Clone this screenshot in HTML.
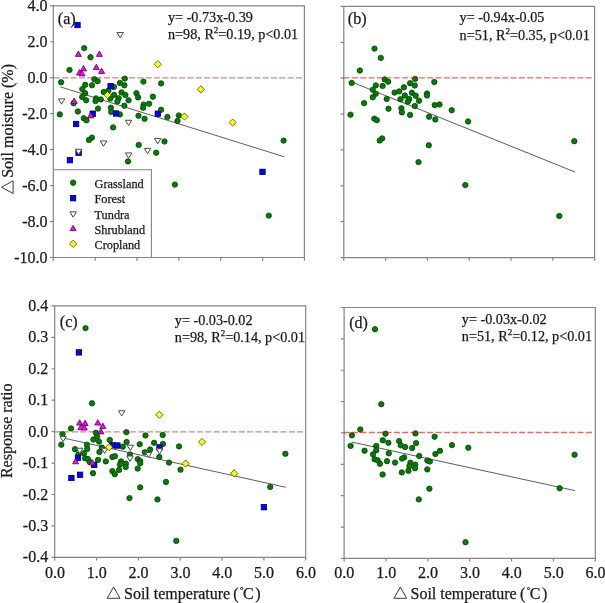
<!DOCTYPE html>
<html><head><meta charset="utf-8"><style>
html,body{margin:0;padding:0;background:#fff;width:605px;height:603px;overflow:hidden}
svg{display:block}
text{font-family:"Liberation Serif",serif;fill:#1a1a1a;stroke:#1a1a1a;stroke-width:0.25px}
</style></head><body>
<svg width="605" height="603" viewBox="0 0 605 603">
<path d="M53.3 5.8H304.4V257.5H53.3Z" fill="none" stroke="#848484" stroke-width="1.2"/><path d="M50.1 5.8H53.3M50.1 41.76H53.3M50.1 77.71H53.3M50.1 113.67H53.3M50.1 149.63H53.3M50.1 185.59H53.3M50.1 221.54H53.3M50.1 257.5H53.3M53.3 257.5V260.7M95.15 257.5V260.7M137 257.5V260.7M178.85 257.5V260.7M220.7 257.5V260.7M262.55 257.5V260.7M304.4 257.5V260.7" fill="none" stroke="#848484" stroke-width="1.2"/>
<path d="M343.8 6.4H594.6V257.6H343.8Z" fill="none" stroke="#848484" stroke-width="1.2"/><path d="M340.6 6.4H343.8M340.6 42.29H343.8M340.6 78.17H343.8M340.6 114.06H343.8M340.6 149.94H343.8M340.6 185.83H343.8M340.6 221.71H343.8M340.6 257.6H343.8M343.8 257.6V260.8M385.6 257.6V260.8M427.4 257.6V260.8M469.2 257.6V260.8M511 257.6V260.8M552.8 257.6V260.8M594.6 257.6V260.8" fill="none" stroke="#848484" stroke-width="1.2"/>
<path d="M54.7 305.9H305.7V557.4H54.7Z" fill="none" stroke="#848484" stroke-width="1.2"/><path d="M51.5 305.9H54.7M51.5 337.34H54.7M51.5 368.77H54.7M51.5 400.21H54.7M51.5 431.65H54.7M51.5 463.09H54.7M51.5 494.52H54.7M51.5 525.96H54.7M51.5 557.4H54.7M54.7 557.4V560.6M96.53 557.4V560.6M138.37 557.4V560.6M180.2 557.4V560.6M222.03 557.4V560.6M263.87 557.4V560.6M305.7 557.4V560.6" fill="none" stroke="#848484" stroke-width="1.2"/>
<path d="M344.1 307.5H595.3V558.4H344.1Z" fill="none" stroke="#848484" stroke-width="1.2"/><path d="M340.9 307.5H344.1M340.9 338.86H344.1M340.9 370.23H344.1M340.9 401.59H344.1M340.9 432.95H344.1M340.9 464.31H344.1M340.9 495.67H344.1M340.9 527.04H344.1M340.9 558.4H344.1M344.1 558.4V561.6M385.97 558.4V561.6M427.83 558.4V561.6M469.7 558.4V561.6M511.57 558.4V561.6M553.43 558.4V561.6M595.3 558.4V561.6" fill="none" stroke="#848484" stroke-width="1.2"/>
<line x1="60.4" y1="86.9" x2="284.3" y2="156.8" stroke="#555555" stroke-width="0.95"/>
<line x1="353.9" y1="82.9" x2="575.2" y2="172.1" stroke="#555555" stroke-width="0.95"/>
<line x1="61.4" y1="437.6" x2="285.8" y2="487.3" stroke="#555555" stroke-width="0.95"/>
<line x1="351.5" y1="442.0" x2="575.0" y2="490.6" stroke="#555555" stroke-width="0.95"/>
<circle cx="84.2" cy="48.1" r="2.7" fill="#008000" stroke="#083808" stroke-width="0.75"/>
<circle cx="90.5" cy="57.2" r="2.7" fill="#008000" stroke="#083808" stroke-width="0.75"/>
<circle cx="69.5" cy="69.9" r="2.7" fill="#008000" stroke="#083808" stroke-width="0.75"/>
<circle cx="61.1" cy="82.3" r="2.7" fill="#008000" stroke="#083808" stroke-width="0.75"/>
<circle cx="94.4" cy="79.2" r="2.7" fill="#008000" stroke="#083808" stroke-width="0.75"/>
<circle cx="97.6" cy="81.2" r="2.7" fill="#008000" stroke="#083808" stroke-width="0.75"/>
<circle cx="85.2" cy="84.8" r="2.7" fill="#008000" stroke="#083808" stroke-width="0.75"/>
<circle cx="92" cy="85.3" r="2.7" fill="#008000" stroke="#083808" stroke-width="0.75"/>
<circle cx="82.3" cy="89.1" r="2.7" fill="#008000" stroke="#083808" stroke-width="0.75"/>
<circle cx="85.2" cy="93.2" r="2.7" fill="#008000" stroke="#083808" stroke-width="0.75"/>
<circle cx="82.2" cy="97" r="2.7" fill="#008000" stroke="#083808" stroke-width="0.75"/>
<circle cx="86.1" cy="100.3" r="2.7" fill="#008000" stroke="#083808" stroke-width="0.75"/>
<circle cx="96" cy="98.4" r="2.7" fill="#008000" stroke="#083808" stroke-width="0.75"/>
<circle cx="95.5" cy="101.1" r="2.7" fill="#008000" stroke="#083808" stroke-width="0.75"/>
<circle cx="73.6" cy="103.2" r="2.7" fill="#008000" stroke="#083808" stroke-width="0.75"/>
<circle cx="77.9" cy="111.5" r="2.7" fill="#008000" stroke="#083808" stroke-width="0.75"/>
<circle cx="59.8" cy="114.4" r="2.7" fill="#008000" stroke="#083808" stroke-width="0.75"/>
<circle cx="98" cy="108.6" r="2.7" fill="#008000" stroke="#083808" stroke-width="0.75"/>
<circle cx="83.8" cy="118.2" r="2.7" fill="#008000" stroke="#083808" stroke-width="0.75"/>
<circle cx="86.5" cy="120.3" r="2.7" fill="#008000" stroke="#083808" stroke-width="0.75"/>
<circle cx="124.8" cy="78.6" r="2.7" fill="#008000" stroke="#083808" stroke-width="0.75"/>
<circle cx="119.9" cy="82.9" r="2.7" fill="#008000" stroke="#083808" stroke-width="0.75"/>
<circle cx="124.4" cy="85.3" r="2.7" fill="#008000" stroke="#083808" stroke-width="0.75"/>
<circle cx="143.4" cy="81.6" r="2.7" fill="#008000" stroke="#083808" stroke-width="0.75"/>
<circle cx="113.9" cy="87" r="2.7" fill="#008000" stroke="#083808" stroke-width="0.75"/>
<circle cx="108.3" cy="90.7" r="2.7" fill="#008000" stroke="#083808" stroke-width="0.75"/>
<circle cx="103.7" cy="92" r="2.7" fill="#008000" stroke="#083808" stroke-width="0.75"/>
<circle cx="114.1" cy="94.9" r="2.7" fill="#008000" stroke="#083808" stroke-width="0.75"/>
<circle cx="121.5" cy="92.4" r="2.7" fill="#008000" stroke="#083808" stroke-width="0.75"/>
<circle cx="125.3" cy="94.9" r="2.7" fill="#008000" stroke="#083808" stroke-width="0.75"/>
<circle cx="136.5" cy="93.2" r="2.7" fill="#008000" stroke="#083808" stroke-width="0.75"/>
<circle cx="138.1" cy="97.4" r="2.7" fill="#008000" stroke="#083808" stroke-width="0.75"/>
<circle cx="110.3" cy="98.6" r="2.7" fill="#008000" stroke="#083808" stroke-width="0.75"/>
<circle cx="118.6" cy="98.2" r="2.7" fill="#008000" stroke="#083808" stroke-width="0.75"/>
<circle cx="117.4" cy="101.5" r="2.7" fill="#008000" stroke="#083808" stroke-width="0.75"/>
<circle cx="128.6" cy="100.3" r="2.7" fill="#008000" stroke="#083808" stroke-width="0.75"/>
<circle cx="100.8" cy="99.4" r="2.7" fill="#008000" stroke="#083808" stroke-width="0.75"/>
<circle cx="124.4" cy="105.7" r="2.7" fill="#008000" stroke="#083808" stroke-width="0.75"/>
<circle cx="143.6" cy="104.6" r="2.7" fill="#008000" stroke="#083808" stroke-width="0.75"/>
<circle cx="143.1" cy="107.7" r="2.7" fill="#008000" stroke="#083808" stroke-width="0.75"/>
<circle cx="149.1" cy="103.8" r="2.7" fill="#008000" stroke="#083808" stroke-width="0.75"/>
<circle cx="110.9" cy="107.7" r="2.7" fill="#008000" stroke="#083808" stroke-width="0.75"/>
<circle cx="111.2" cy="111.9" r="2.7" fill="#008000" stroke="#083808" stroke-width="0.75"/>
<circle cx="119.9" cy="114.4" r="2.7" fill="#008000" stroke="#083808" stroke-width="0.75"/>
<circle cx="138.5" cy="115.8" r="2.7" fill="#008000" stroke="#083808" stroke-width="0.75"/>
<circle cx="144.6" cy="118.8" r="2.7" fill="#008000" stroke="#083808" stroke-width="0.75"/>
<circle cx="161.1" cy="83.4" r="2.7" fill="#008000" stroke="#083808" stroke-width="0.75"/>
<circle cx="152.9" cy="96.7" r="2.7" fill="#008000" stroke="#083808" stroke-width="0.75"/>
<circle cx="161.1" cy="109.8" r="2.7" fill="#008000" stroke="#083808" stroke-width="0.75"/>
<circle cx="167.4" cy="116.9" r="2.7" fill="#008000" stroke="#083808" stroke-width="0.75"/>
<circle cx="178.9" cy="115.5" r="2.7" fill="#008000" stroke="#083808" stroke-width="0.75"/>
<circle cx="177.5" cy="121" r="2.7" fill="#008000" stroke="#083808" stroke-width="0.75"/>
<circle cx="91.9" cy="137.6" r="2.7" fill="#008000" stroke="#083808" stroke-width="0.75"/>
<circle cx="89" cy="139.9" r="2.7" fill="#008000" stroke="#083808" stroke-width="0.75"/>
<circle cx="113.1" cy="127.4" r="2.7" fill="#008000" stroke="#083808" stroke-width="0.75"/>
<circle cx="138.7" cy="144.9" r="2.7" fill="#008000" stroke="#083808" stroke-width="0.75"/>
<circle cx="128" cy="161.4" r="2.7" fill="#008000" stroke="#083808" stroke-width="0.75"/>
<circle cx="164.5" cy="141.5" r="2.7" fill="#008000" stroke="#083808" stroke-width="0.75"/>
<circle cx="156.2" cy="152.7" r="2.7" fill="#008000" stroke="#083808" stroke-width="0.75"/>
<circle cx="283.6" cy="140.6" r="2.7" fill="#008000" stroke="#083808" stroke-width="0.75"/>
<circle cx="174.9" cy="184.6" r="2.7" fill="#008000" stroke="#083808" stroke-width="0.75"/>
<circle cx="268.8" cy="215.6" r="2.7" fill="#008000" stroke="#083808" stroke-width="0.75"/>
<rect x="74.8" y="22.3" width="5.4" height="5.4" fill="#0000ff" stroke="#000048" stroke-width="0.8"/>
<rect x="107.9" y="83.5" width="5.4" height="5.4" fill="#0000ff" stroke="#000048" stroke-width="0.8"/>
<rect x="90" y="111" width="5.4" height="5.4" fill="#0000ff" stroke="#000048" stroke-width="0.8"/>
<rect x="113.4" y="110.8" width="5.4" height="5.4" fill="#0000ff" stroke="#000048" stroke-width="0.8"/>
<rect x="73.4" y="121.3" width="5.4" height="5.4" fill="#0000ff" stroke="#000048" stroke-width="0.8"/>
<rect x="75.9" y="150" width="5.4" height="5.4" fill="#0000ff" stroke="#000048" stroke-width="0.8"/>
<rect x="67.2" y="157.5" width="5.4" height="5.4" fill="#0000ff" stroke="#000048" stroke-width="0.8"/>
<rect x="155.1" y="111" width="5.4" height="5.4" fill="#0000ff" stroke="#000048" stroke-width="0.8"/>
<rect x="259.8" y="169.2" width="5.4" height="5.4" fill="#0000ff" stroke="#000048" stroke-width="0.8"/>
<path d="M116.95 32.55H123.45L120.2 37.85Z" fill="#ffffff" stroke="#4c4c4c" stroke-width="1"/>
<path d="M58.35 98.85H64.85L61.6 104.15Z" fill="#ffffff" stroke="#4c4c4c" stroke-width="1"/>
<path d="M125.35 120.25H131.85L128.6 125.55Z" fill="#ffffff" stroke="#4c4c4c" stroke-width="1"/>
<path d="M100.25 140.95H106.75L103.5 146.25Z" fill="#ffffff" stroke="#4c4c4c" stroke-width="1"/>
<path d="M125.35 152.95H131.85L128.6 158.25Z" fill="#ffffff" stroke="#4c4c4c" stroke-width="1"/>
<path d="M154.45 138.45H160.95L157.7 143.75Z" fill="#ffffff" stroke="#4c4c4c" stroke-width="1"/>
<path d="M144.25 148.35H150.75L147.5 153.65Z" fill="#ffffff" stroke="#4c4c4c" stroke-width="1"/>
<path d="M75.35 149.25H81.85L78.6 154.55Z" fill="#ffffff" stroke="#4c4c4c" stroke-width="1"/>
<path d="M78.4 51L81.45 56.4H75.35Z" fill="#ff00ff" stroke="#4a004a" stroke-width="0.75"/>
<path d="M99.4 51L102.45 56.4H96.35Z" fill="#ff00ff" stroke="#4a004a" stroke-width="0.75"/>
<path d="M83.5 65.5L86.55 70.9H80.45Z" fill="#ff00ff" stroke="#4a004a" stroke-width="0.75"/>
<path d="M96.3 64.2L99.35 69.6H93.25Z" fill="#ff00ff" stroke="#4a004a" stroke-width="0.75"/>
<path d="M101.6 68.2L104.65 73.6H98.55Z" fill="#ff00ff" stroke="#4a004a" stroke-width="0.75"/>
<path d="M79.5 69.6L82.55 75H76.45Z" fill="#ff00ff" stroke="#4a004a" stroke-width="0.75"/>
<path d="M82 70.5L85.05 75.9H78.95Z" fill="#ff00ff" stroke="#4a004a" stroke-width="0.75"/>
<path d="M74.2 98L77.25 103.4H71.15Z" fill="#ff00ff" stroke="#4a004a" stroke-width="0.75"/>
<path d="M90.6 112.5L93.65 117.9H87.55Z" fill="#ff00ff" stroke="#4a004a" stroke-width="0.75"/>
<path d="M157.8 60.6L161.4 64.2L157.8 67.8L154.2 64.2Z" fill="#ffff00" stroke="#40401a" stroke-width="0.75"/>
<path d="M107.6 91.5L111.2 95.1L107.6 98.7L104 95.1Z" fill="#ffff00" stroke="#40401a" stroke-width="0.75"/>
<path d="M200.8 85.8L204.4 89.4L200.8 93L197.2 89.4Z" fill="#ffff00" stroke="#40401a" stroke-width="0.75"/>
<path d="M184.5 112.9L188.1 116.5L184.5 120.1L180.9 116.5Z" fill="#ffff00" stroke="#40401a" stroke-width="0.75"/>
<path d="M232.7 119L236.3 122.6L232.7 126.2L229.1 122.6Z" fill="#ffff00" stroke="#40401a" stroke-width="0.75"/>
<circle cx="374.5" cy="48.6" r="2.7" fill="#008000" stroke="#083808" stroke-width="0.75"/>
<circle cx="380.8" cy="57.9" r="2.7" fill="#008000" stroke="#083808" stroke-width="0.75"/>
<circle cx="359.9" cy="70.5" r="2.7" fill="#008000" stroke="#083808" stroke-width="0.75"/>
<circle cx="351.7" cy="82.9" r="2.7" fill="#008000" stroke="#083808" stroke-width="0.75"/>
<circle cx="384.7" cy="79.4" r="2.7" fill="#008000" stroke="#083808" stroke-width="0.75"/>
<circle cx="388.2" cy="81.7" r="2.7" fill="#008000" stroke="#083808" stroke-width="0.75"/>
<circle cx="375.8" cy="85.4" r="2.7" fill="#008000" stroke="#083808" stroke-width="0.75"/>
<circle cx="382.6" cy="85.9" r="2.7" fill="#008000" stroke="#083808" stroke-width="0.75"/>
<circle cx="372.8" cy="89.7" r="2.7" fill="#008000" stroke="#083808" stroke-width="0.75"/>
<circle cx="375.8" cy="93.8" r="2.7" fill="#008000" stroke="#083808" stroke-width="0.75"/>
<circle cx="372.8" cy="97.3" r="2.7" fill="#008000" stroke="#083808" stroke-width="0.75"/>
<circle cx="386.7" cy="99" r="2.7" fill="#008000" stroke="#083808" stroke-width="0.75"/>
<circle cx="364.1" cy="103.1" r="2.7" fill="#008000" stroke="#083808" stroke-width="0.75"/>
<circle cx="388.5" cy="108.7" r="2.7" fill="#008000" stroke="#083808" stroke-width="0.75"/>
<circle cx="350.5" cy="114.7" r="2.7" fill="#008000" stroke="#083808" stroke-width="0.75"/>
<circle cx="374.3" cy="118.7" r="2.7" fill="#008000" stroke="#083808" stroke-width="0.75"/>
<circle cx="376.8" cy="120.2" r="2.7" fill="#008000" stroke="#083808" stroke-width="0.75"/>
<circle cx="415.1" cy="78.9" r="2.7" fill="#008000" stroke="#083808" stroke-width="0.75"/>
<circle cx="410.1" cy="83.2" r="2.7" fill="#008000" stroke="#083808" stroke-width="0.75"/>
<circle cx="414.8" cy="85.5" r="2.7" fill="#008000" stroke="#083808" stroke-width="0.75"/>
<circle cx="434.3" cy="82" r="2.7" fill="#008000" stroke="#083808" stroke-width="0.75"/>
<circle cx="403.9" cy="87.3" r="2.7" fill="#008000" stroke="#083808" stroke-width="0.75"/>
<circle cx="394.6" cy="92.6" r="2.7" fill="#008000" stroke="#083808" stroke-width="0.75"/>
<circle cx="399.1" cy="91.4" r="2.7" fill="#008000" stroke="#083808" stroke-width="0.75"/>
<circle cx="404.8" cy="95.5" r="2.7" fill="#008000" stroke="#083808" stroke-width="0.75"/>
<circle cx="411.9" cy="92.8" r="2.7" fill="#008000" stroke="#083808" stroke-width="0.75"/>
<circle cx="415.7" cy="95.7" r="2.7" fill="#008000" stroke="#083808" stroke-width="0.75"/>
<circle cx="427" cy="93.5" r="2.7" fill="#008000" stroke="#083808" stroke-width="0.75"/>
<circle cx="427" cy="95.5" r="2.7" fill="#008000" stroke="#083808" stroke-width="0.75"/>
<circle cx="400.5" cy="99.2" r="2.7" fill="#008000" stroke="#083808" stroke-width="0.75"/>
<circle cx="409.2" cy="99" r="2.7" fill="#008000" stroke="#083808" stroke-width="0.75"/>
<circle cx="407.8" cy="101.8" r="2.7" fill="#008000" stroke="#083808" stroke-width="0.75"/>
<circle cx="419" cy="100.8" r="2.7" fill="#008000" stroke="#083808" stroke-width="0.75"/>
<circle cx="414.8" cy="106" r="2.7" fill="#008000" stroke="#083808" stroke-width="0.75"/>
<circle cx="401.4" cy="108.3" r="2.7" fill="#008000" stroke="#083808" stroke-width="0.75"/>
<circle cx="401.9" cy="112.4" r="2.7" fill="#008000" stroke="#083808" stroke-width="0.75"/>
<circle cx="410.1" cy="114.9" r="2.7" fill="#008000" stroke="#083808" stroke-width="0.75"/>
<circle cx="434.7" cy="105.1" r="2.7" fill="#008000" stroke="#083808" stroke-width="0.75"/>
<circle cx="439.5" cy="104.5" r="2.7" fill="#008000" stroke="#083808" stroke-width="0.75"/>
<circle cx="429.1" cy="116.7" r="2.7" fill="#008000" stroke="#083808" stroke-width="0.75"/>
<circle cx="435.3" cy="119.5" r="2.7" fill="#008000" stroke="#083808" stroke-width="0.75"/>
<circle cx="451.7" cy="110.2" r="2.7" fill="#008000" stroke="#083808" stroke-width="0.75"/>
<circle cx="468.1" cy="121.5" r="2.7" fill="#008000" stroke="#083808" stroke-width="0.75"/>
<circle cx="382.2" cy="138.4" r="2.7" fill="#008000" stroke="#083808" stroke-width="0.75"/>
<circle cx="379.7" cy="140.5" r="2.7" fill="#008000" stroke="#083808" stroke-width="0.75"/>
<circle cx="428.8" cy="145.3" r="2.7" fill="#008000" stroke="#083808" stroke-width="0.75"/>
<circle cx="418.5" cy="162.1" r="2.7" fill="#008000" stroke="#083808" stroke-width="0.75"/>
<circle cx="465.3" cy="185.1" r="2.7" fill="#008000" stroke="#083808" stroke-width="0.75"/>
<circle cx="574.3" cy="141.2" r="2.7" fill="#008000" stroke="#083808" stroke-width="0.75"/>
<circle cx="559.3" cy="216" r="2.7" fill="#008000" stroke="#083808" stroke-width="0.75"/>
<circle cx="85.5" cy="328.1" r="2.7" fill="#008000" stroke="#083808" stroke-width="0.75"/>
<circle cx="92" cy="403.3" r="2.7" fill="#008000" stroke="#083808" stroke-width="0.75"/>
<circle cx="71" cy="428.4" r="2.7" fill="#008000" stroke="#083808" stroke-width="0.75"/>
<circle cx="62.5" cy="434.1" r="2.7" fill="#008000" stroke="#083808" stroke-width="0.75"/>
<circle cx="61.3" cy="444.7" r="2.7" fill="#008000" stroke="#083808" stroke-width="0.75"/>
<circle cx="95.9" cy="432.8" r="2.7" fill="#008000" stroke="#083808" stroke-width="0.75"/>
<circle cx="97.1" cy="436.5" r="2.7" fill="#008000" stroke="#083808" stroke-width="0.75"/>
<circle cx="93.4" cy="439.5" r="2.7" fill="#008000" stroke="#083808" stroke-width="0.75"/>
<circle cx="99" cy="441.6" r="2.7" fill="#008000" stroke="#083808" stroke-width="0.75"/>
<circle cx="86.9" cy="444.7" r="2.7" fill="#008000" stroke="#083808" stroke-width="0.75"/>
<circle cx="75" cy="449.2" r="2.7" fill="#008000" stroke="#083808" stroke-width="0.75"/>
<circle cx="87.2" cy="449" r="2.7" fill="#008000" stroke="#083808" stroke-width="0.75"/>
<circle cx="101.8" cy="447.5" r="2.7" fill="#008000" stroke="#083808" stroke-width="0.75"/>
<circle cx="84" cy="453.3" r="2.7" fill="#008000" stroke="#083808" stroke-width="0.75"/>
<circle cx="78.5" cy="454.5" r="2.7" fill="#008000" stroke="#083808" stroke-width="0.75"/>
<circle cx="85.1" cy="458.2" r="2.7" fill="#008000" stroke="#083808" stroke-width="0.75"/>
<circle cx="88" cy="459.1" r="2.7" fill="#008000" stroke="#083808" stroke-width="0.75"/>
<circle cx="89.7" cy="462" r="2.7" fill="#008000" stroke="#083808" stroke-width="0.75"/>
<circle cx="98" cy="459.9" r="2.7" fill="#008000" stroke="#083808" stroke-width="0.75"/>
<circle cx="99.4" cy="452" r="2.7" fill="#008000" stroke="#083808" stroke-width="0.75"/>
<circle cx="93" cy="473.2" r="2.7" fill="#008000" stroke="#083808" stroke-width="0.75"/>
<circle cx="126.4" cy="432.2" r="2.7" fill="#008000" stroke="#083808" stroke-width="0.75"/>
<circle cx="145.5" cy="435.5" r="2.7" fill="#008000" stroke="#083808" stroke-width="0.75"/>
<circle cx="109.8" cy="440" r="2.7" fill="#008000" stroke="#083808" stroke-width="0.75"/>
<circle cx="126.6" cy="442" r="2.7" fill="#008000" stroke="#083808" stroke-width="0.75"/>
<circle cx="139.7" cy="444.2" r="2.7" fill="#008000" stroke="#083808" stroke-width="0.75"/>
<circle cx="122.8" cy="446.7" r="2.7" fill="#008000" stroke="#083808" stroke-width="0.75"/>
<circle cx="150.1" cy="449.5" r="2.7" fill="#008000" stroke="#083808" stroke-width="0.75"/>
<circle cx="112.4" cy="457" r="2.7" fill="#008000" stroke="#083808" stroke-width="0.75"/>
<circle cx="114.9" cy="456.2" r="2.7" fill="#008000" stroke="#083808" stroke-width="0.75"/>
<circle cx="105.8" cy="461.4" r="2.7" fill="#008000" stroke="#083808" stroke-width="0.75"/>
<circle cx="121.1" cy="461.4" r="2.7" fill="#008000" stroke="#083808" stroke-width="0.75"/>
<circle cx="119.9" cy="464.5" r="2.7" fill="#008000" stroke="#083808" stroke-width="0.75"/>
<circle cx="125.9" cy="463.6" r="2.7" fill="#008000" stroke="#083808" stroke-width="0.75"/>
<circle cx="125.7" cy="467" r="2.7" fill="#008000" stroke="#083808" stroke-width="0.75"/>
<circle cx="119.1" cy="469.9" r="2.7" fill="#008000" stroke="#083808" stroke-width="0.75"/>
<circle cx="112.4" cy="471.1" r="2.7" fill="#008000" stroke="#083808" stroke-width="0.75"/>
<circle cx="114.8" cy="474.2" r="2.7" fill="#008000" stroke="#083808" stroke-width="0.75"/>
<circle cx="130" cy="454.5" r="2.7" fill="#008000" stroke="#083808" stroke-width="0.75"/>
<circle cx="137.7" cy="459.1" r="2.7" fill="#008000" stroke="#083808" stroke-width="0.75"/>
<circle cx="140.2" cy="461.1" r="2.7" fill="#008000" stroke="#083808" stroke-width="0.75"/>
<circle cx="140.2" cy="463.2" r="2.7" fill="#008000" stroke="#083808" stroke-width="0.75"/>
<circle cx="137.7" cy="468.6" r="2.7" fill="#008000" stroke="#083808" stroke-width="0.75"/>
<circle cx="144.8" cy="452.3" r="2.7" fill="#008000" stroke="#083808" stroke-width="0.75"/>
<circle cx="140.2" cy="487.4" r="2.7" fill="#008000" stroke="#083808" stroke-width="0.75"/>
<circle cx="162.7" cy="435" r="2.7" fill="#008000" stroke="#083808" stroke-width="0.75"/>
<circle cx="154.1" cy="442.8" r="2.7" fill="#008000" stroke="#083808" stroke-width="0.75"/>
<circle cx="162.9" cy="444" r="2.7" fill="#008000" stroke="#083808" stroke-width="0.75"/>
<circle cx="179" cy="446.4" r="2.7" fill="#008000" stroke="#083808" stroke-width="0.75"/>
<circle cx="159.3" cy="457" r="2.7" fill="#008000" stroke="#083808" stroke-width="0.75"/>
<circle cx="169" cy="462.6" r="2.7" fill="#008000" stroke="#083808" stroke-width="0.75"/>
<circle cx="180.5" cy="469.7" r="2.7" fill="#008000" stroke="#083808" stroke-width="0.75"/>
<circle cx="166" cy="481.9" r="2.7" fill="#008000" stroke="#083808" stroke-width="0.75"/>
<circle cx="129.5" cy="498.1" r="2.7" fill="#008000" stroke="#083808" stroke-width="0.75"/>
<circle cx="157.5" cy="499.4" r="2.7" fill="#008000" stroke="#083808" stroke-width="0.75"/>
<circle cx="176.3" cy="540.9" r="2.7" fill="#008000" stroke="#083808" stroke-width="0.75"/>
<circle cx="285.4" cy="453.8" r="2.7" fill="#008000" stroke="#083808" stroke-width="0.75"/>
<circle cx="270.2" cy="486.9" r="2.7" fill="#008000" stroke="#083808" stroke-width="0.75"/>
<rect x="76.2" y="349.7" width="5.4" height="5.4" fill="#0000ff" stroke="#000048" stroke-width="0.8"/>
<rect x="109.6" y="442.6" width="5.4" height="5.4" fill="#0000ff" stroke="#000048" stroke-width="0.8"/>
<rect x="114.7" y="442.8" width="5.4" height="5.4" fill="#0000ff" stroke="#000048" stroke-width="0.8"/>
<rect x="75.3" y="455.1" width="5.4" height="5.4" fill="#0000ff" stroke="#000048" stroke-width="0.8"/>
<rect x="91.5" y="462.2" width="5.4" height="5.4" fill="#0000ff" stroke="#000048" stroke-width="0.8"/>
<rect x="77.4" y="472.1" width="5.4" height="5.4" fill="#0000ff" stroke="#000048" stroke-width="0.8"/>
<rect x="68.7" y="475.3" width="5.4" height="5.4" fill="#0000ff" stroke="#000048" stroke-width="0.8"/>
<rect x="156.8" y="444.7" width="5.4" height="5.4" fill="#0000ff" stroke="#000048" stroke-width="0.8"/>
<rect x="261.2" y="504.5" width="5.4" height="5.4" fill="#0000ff" stroke="#000048" stroke-width="0.8"/>
<path d="M118.45 410.75H124.95L121.7 416.05Z" fill="#ffffff" stroke="#4c4c4c" stroke-width="1"/>
<path d="M59.95 436.35H66.45L63.2 441.65Z" fill="#ffffff" stroke="#4c4c4c" stroke-width="1"/>
<path d="M76.45 448.25H82.95L79.7 453.55Z" fill="#ffffff" stroke="#4c4c4c" stroke-width="1"/>
<path d="M101.35 448.15H107.85L104.6 453.45Z" fill="#ffffff" stroke="#4c4c4c" stroke-width="1"/>
<path d="M127.05 445.15H133.55L130.3 450.45Z" fill="#ffffff" stroke="#4c4c4c" stroke-width="1"/>
<path d="M126.75 456.05H133.25L130 461.35Z" fill="#ffffff" stroke="#4c4c4c" stroke-width="1"/>
<path d="M145.35 452.45H151.85L148.6 457.75Z" fill="#ffffff" stroke="#4c4c4c" stroke-width="1"/>
<path d="M156.25 448.75H162.75L159.5 454.05Z" fill="#ffffff" stroke="#4c4c4c" stroke-width="1"/>
<path d="M79.7 419.7L82.75 425.1H76.65Z" fill="#ff00ff" stroke="#4a004a" stroke-width="0.75"/>
<path d="M85.1 420.1L88.15 425.5H82.05Z" fill="#ff00ff" stroke="#4a004a" stroke-width="0.75"/>
<path d="M81 424.3L84.05 429.7H77.95Z" fill="#ff00ff" stroke="#4a004a" stroke-width="0.75"/>
<path d="M84.3 424.7L87.35 430.1H81.25Z" fill="#ff00ff" stroke="#4a004a" stroke-width="0.75"/>
<path d="M97.8 419.7L100.85 425.1H94.75Z" fill="#ff00ff" stroke="#4a004a" stroke-width="0.75"/>
<path d="M102.8 423.1L105.85 428.5H99.75Z" fill="#ff00ff" stroke="#4a004a" stroke-width="0.75"/>
<path d="M100.9 428.5L103.95 433.9H97.85Z" fill="#ff00ff" stroke="#4a004a" stroke-width="0.75"/>
<path d="M75.6 458.4L78.65 463.8H72.55Z" fill="#ff00ff" stroke="#4a004a" stroke-width="0.75"/>
<path d="M92.3 459.5L95.35 464.9H89.25Z" fill="#ff00ff" stroke="#4a004a" stroke-width="0.75"/>
<path d="M109.1 443.6L112.7 447.2L109.1 450.8L105.5 447.2Z" fill="#ffff00" stroke="#40401a" stroke-width="0.75"/>
<path d="M159.3 411.2L162.9 414.8L159.3 418.4L155.7 414.8Z" fill="#ffff00" stroke="#40401a" stroke-width="0.75"/>
<path d="M202 438.4L205.6 442L202 445.6L198.4 442Z" fill="#ffff00" stroke="#40401a" stroke-width="0.75"/>
<path d="M185.6 460L189.2 463.6L185.6 467.2L182 463.6Z" fill="#ffff00" stroke="#40401a" stroke-width="0.75"/>
<path d="M234.2 469.8L237.8 473.4L234.2 477L230.6 473.4Z" fill="#ffff00" stroke="#40401a" stroke-width="0.75"/>
<circle cx="375" cy="329.2" r="2.7" fill="#008000" stroke="#083808" stroke-width="0.75"/>
<circle cx="381.3" cy="404.2" r="2.7" fill="#008000" stroke="#083808" stroke-width="0.75"/>
<circle cx="360.3" cy="429.5" r="2.7" fill="#008000" stroke="#083808" stroke-width="0.75"/>
<circle cx="351.9" cy="435.3" r="2.7" fill="#008000" stroke="#083808" stroke-width="0.75"/>
<circle cx="350.6" cy="445.9" r="2.7" fill="#008000" stroke="#083808" stroke-width="0.75"/>
<circle cx="364.6" cy="450.7" r="2.7" fill="#008000" stroke="#083808" stroke-width="0.75"/>
<circle cx="385.5" cy="433.7" r="2.7" fill="#008000" stroke="#083808" stroke-width="0.75"/>
<circle cx="382.8" cy="440.3" r="2.7" fill="#008000" stroke="#083808" stroke-width="0.75"/>
<circle cx="388.4" cy="442.8" r="2.7" fill="#008000" stroke="#083808" stroke-width="0.75"/>
<circle cx="376.2" cy="445.9" r="2.7" fill="#008000" stroke="#083808" stroke-width="0.75"/>
<circle cx="376.2" cy="450.3" r="2.7" fill="#008000" stroke="#083808" stroke-width="0.75"/>
<circle cx="373" cy="454.4" r="2.7" fill="#008000" stroke="#083808" stroke-width="0.75"/>
<circle cx="374.6" cy="459.3" r="2.7" fill="#008000" stroke="#083808" stroke-width="0.75"/>
<circle cx="377.6" cy="460.3" r="2.7" fill="#008000" stroke="#083808" stroke-width="0.75"/>
<circle cx="379.9" cy="463.8" r="2.7" fill="#008000" stroke="#083808" stroke-width="0.75"/>
<circle cx="388.8" cy="453.3" r="2.7" fill="#008000" stroke="#083808" stroke-width="0.75"/>
<circle cx="387" cy="461.2" r="2.7" fill="#008000" stroke="#083808" stroke-width="0.75"/>
<circle cx="395" cy="462.6" r="2.7" fill="#008000" stroke="#083808" stroke-width="0.75"/>
<circle cx="382.6" cy="474.5" r="2.7" fill="#008000" stroke="#083808" stroke-width="0.75"/>
<circle cx="415.5" cy="433.4" r="2.7" fill="#008000" stroke="#083808" stroke-width="0.75"/>
<circle cx="434.6" cy="436.7" r="2.7" fill="#008000" stroke="#083808" stroke-width="0.75"/>
<circle cx="399.1" cy="441.1" r="2.7" fill="#008000" stroke="#083808" stroke-width="0.75"/>
<circle cx="400.8" cy="445.3" r="2.7" fill="#008000" stroke="#083808" stroke-width="0.75"/>
<circle cx="405.1" cy="447" r="2.7" fill="#008000" stroke="#083808" stroke-width="0.75"/>
<circle cx="412.2" cy="448" r="2.7" fill="#008000" stroke="#083808" stroke-width="0.75"/>
<circle cx="416.1" cy="443.1" r="2.7" fill="#008000" stroke="#083808" stroke-width="0.75"/>
<circle cx="435.4" cy="454" r="2.7" fill="#008000" stroke="#083808" stroke-width="0.75"/>
<circle cx="440" cy="450.8" r="2.7" fill="#008000" stroke="#083808" stroke-width="0.75"/>
<circle cx="419.2" cy="456" r="2.7" fill="#008000" stroke="#083808" stroke-width="0.75"/>
<circle cx="404.2" cy="457.4" r="2.7" fill="#008000" stroke="#083808" stroke-width="0.75"/>
<circle cx="402" cy="458.6" r="2.7" fill="#008000" stroke="#083808" stroke-width="0.75"/>
<circle cx="427.3" cy="460.5" r="2.7" fill="#008000" stroke="#083808" stroke-width="0.75"/>
<circle cx="429.8" cy="461.5" r="2.7" fill="#008000" stroke="#083808" stroke-width="0.75"/>
<circle cx="410.4" cy="462.8" r="2.7" fill="#008000" stroke="#083808" stroke-width="0.75"/>
<circle cx="415.3" cy="464.6" r="2.7" fill="#008000" stroke="#083808" stroke-width="0.75"/>
<circle cx="409.4" cy="466.1" r="2.7" fill="#008000" stroke="#083808" stroke-width="0.75"/>
<circle cx="415" cy="468.2" r="2.7" fill="#008000" stroke="#083808" stroke-width="0.75"/>
<circle cx="427.3" cy="469.4" r="2.7" fill="#008000" stroke="#083808" stroke-width="0.75"/>
<circle cx="408.4" cy="470.8" r="2.7" fill="#008000" stroke="#083808" stroke-width="0.75"/>
<circle cx="401.8" cy="472.4" r="2.7" fill="#008000" stroke="#083808" stroke-width="0.75"/>
<circle cx="429.4" cy="488.7" r="2.7" fill="#008000" stroke="#083808" stroke-width="0.75"/>
<circle cx="418.8" cy="499.4" r="2.7" fill="#008000" stroke="#083808" stroke-width="0.75"/>
<circle cx="452" cy="445.1" r="2.7" fill="#008000" stroke="#083808" stroke-width="0.75"/>
<circle cx="468.3" cy="447.7" r="2.7" fill="#008000" stroke="#083808" stroke-width="0.75"/>
<circle cx="574.6" cy="454.7" r="2.7" fill="#008000" stroke="#083808" stroke-width="0.75"/>
<circle cx="559.6" cy="488.2" r="2.7" fill="#008000" stroke="#083808" stroke-width="0.75"/>
<circle cx="465.5" cy="542.2" r="2.7" fill="#008000" stroke="#083808" stroke-width="0.75"/>
<line x1="53.8" y1="77.9" x2="302.8" y2="77.9" stroke="rgba(150,20,20,0.5)" stroke-width="1.3" stroke-dasharray="6.1 2.25"/>
<line x1="343.55" y1="77.95" x2="593" y2="77.95" stroke="rgba(232,0,0,0.6)" stroke-width="1.3" stroke-dasharray="6.1 2.25"/>
<line x1="55" y1="431.85" x2="304.1" y2="431.85" stroke="rgba(150,20,20,0.5)" stroke-width="1.3" stroke-dasharray="6.1 2.25"/>
<line x1="343.7" y1="432.5" x2="593.7" y2="432.5" stroke="rgba(232,0,0,0.6)" stroke-width="1.3" stroke-dasharray="6.1 2.25"/>
<path d="M53.3 169.8H151.4V257.5" fill="#ffffff" stroke="#848484" stroke-width="1.1"/>
<circle cx="73.1" cy="182.7" r="2.7" fill="#008000" stroke="#083808" stroke-width="0.75"/>
<rect x="70.4" y="195.5" width="5.4" height="5.4" fill="#0000ff" stroke="#000048" stroke-width="0.8"/>
<path d="M69.85 211.85H76.35L73.1 217.15Z" fill="#ffffff" stroke="#4c4c4c" stroke-width="1"/>
<path d="M73.1 225.3L76.15 230.7H70.05Z" fill="#ff00ff" stroke="#4a004a" stroke-width="0.75"/>
<path d="M73.1 240.2L76.7 243.8L73.1 247.4L69.5 243.8Z" fill="#ffff00" stroke="#40401a" stroke-width="0.75"/>
<path d="M107.2 598.3H120L113.6 587.1Z" fill="none" stroke="#1a1a1a" stroke-width="0.85"/>
<path d="M393.9 598.3H406.7L400.3 587.1Z" fill="none" stroke="#1a1a1a" stroke-width="0.85"/>
<g style="will-change:transform">
<text x="47.5" y="10.8" font-size="16" text-anchor="end" >4.0</text>
<text x="47.5" y="46.76" font-size="16" text-anchor="end" >2.0</text>
<text x="47.5" y="82.71" font-size="16" text-anchor="end" >0.0</text>
<text x="47.5" y="118.67" font-size="16" text-anchor="end" >-2.0</text>
<text x="47.5" y="154.63" font-size="16" text-anchor="end" >-4.0</text>
<text x="47.5" y="190.59" font-size="16" text-anchor="end" >-6.0</text>
<text x="47.5" y="226.54" font-size="16" text-anchor="end" >-8.0</text>
<text x="47.5" y="262.5" font-size="16" text-anchor="end" >-10.0</text>
<text x="48.2" y="310.9" font-size="16" text-anchor="end" >0.4</text>
<text x="48.2" y="342.34" font-size="16" text-anchor="end" >0.3</text>
<text x="48.2" y="373.77" font-size="16" text-anchor="end" >0.2</text>
<text x="48.2" y="405.21" font-size="16" text-anchor="end" >0.1</text>
<text x="48.2" y="436.65" font-size="16" text-anchor="end" >0.0</text>
<text x="48.2" y="468.09" font-size="16" text-anchor="end" >-0.1</text>
<text x="48.2" y="499.52" font-size="16" text-anchor="end" >-0.2</text>
<text x="48.2" y="530.96" font-size="16" text-anchor="end" >-0.3</text>
<text x="48.2" y="562.4" font-size="16" text-anchor="end" >-0.4</text>
<text x="54.9" y="577.8" font-size="16" text-anchor="middle" >0.0</text>
<text x="344.3" y="577.8" font-size="16" text-anchor="middle" >0.0</text>
<text x="96.73" y="577.8" font-size="16" text-anchor="middle" >1.0</text>
<text x="386.17" y="577.8" font-size="16" text-anchor="middle" >1.0</text>
<text x="138.57" y="577.8" font-size="16" text-anchor="middle" >2.0</text>
<text x="428.03" y="577.8" font-size="16" text-anchor="middle" >2.0</text>
<text x="180.4" y="577.8" font-size="16" text-anchor="middle" >3.0</text>
<text x="469.9" y="577.8" font-size="16" text-anchor="middle" >3.0</text>
<text x="222.23" y="577.8" font-size="16" text-anchor="middle" >4.0</text>
<text x="511.77" y="577.8" font-size="16" text-anchor="middle" >4.0</text>
<text x="264.07" y="577.8" font-size="16" text-anchor="middle" >5.0</text>
<text x="553.63" y="577.8" font-size="16" text-anchor="middle" >5.0</text>
<text x="305.9" y="577.8" font-size="16" text-anchor="middle" >6.0</text>
<text x="595.5" y="577.8" font-size="16" text-anchor="middle" >6.0</text>
<text x="57.8" y="24.45" font-size="16.2" text-anchor="start" >(a)</text>
<text x="347.8" y="24.45" font-size="16.2" text-anchor="start" >(b)</text>
<text x="59.8" y="327.1" font-size="16" text-anchor="start" >(c)</text>
<text x="349.2" y="327.8" font-size="16" text-anchor="start" >(d)</text>
<text x="168" y="22.4" font-size="14.2" text-anchor="start" >y= -0.73x-0.39</text><text x="168" y="38.7" font-size="14.2">n=98, R<tspan font-size="9" dy="-6">2</tspan><tspan dy="6">=0.19, p&lt;0.01</tspan></text>
<text x="459.6" y="22.3" font-size="14.2" text-anchor="start" >y= -0.94x-0.05</text><text x="459.6" y="39.9" font-size="14.2">n=51, R<tspan font-size="9" dy="-6">2</tspan><tspan dy="6">=0.35, p&lt;0.01</tspan></text>
<text x="174.8" y="324.9" font-size="14.2" text-anchor="start" >y= -0.03-0.02</text><text x="174.8" y="342.2" font-size="14.2">n=98, R<tspan font-size="9" dy="-6">2</tspan><tspan dy="6">=0.14, p&lt;0.01</tspan></text>
<text x="461.8" y="323.6" font-size="14.2" text-anchor="start" >y= -0.03x-0.02</text><text x="461.8" y="341" font-size="14.2">n=51, R<tspan font-size="9" dy="-6">2</tspan><tspan dy="6">=0.12, p&lt;0.01</tspan></text>
<text x="94.5" y="187.6" font-size="12.3" text-anchor="start" >Grassland</text>
<text x="94.5" y="203.1" font-size="12.3" text-anchor="start" >Forest</text>
<text x="94.5" y="218.7" font-size="12.3" text-anchor="start" >Tundra</text>
<text x="94.5" y="233.6" font-size="12.3" text-anchor="start" >Shrubland</text>
<text x="94.5" y="248.9" font-size="12.3" text-anchor="start" >Cropland</text>
<text x="124" y="598.8" font-size="16" text-anchor="start" >Soil temperature</text>
<text x="233.3" y="598.8" font-size="16" text-anchor="start" >(</text>
<text x="239.9" y="593" font-size="8.5" text-anchor="start" >°</text>
<text x="243" y="598.8" font-size="16" text-anchor="start" >C</text>
<text x="255.3" y="598.8" font-size="16" text-anchor="start" >)</text>
<text x="410.5" y="598.8" font-size="16" text-anchor="start" >Soil temperature</text>
<text x="520.1" y="598.8" font-size="16" text-anchor="start" >(</text>
<text x="526.7" y="593" font-size="8.5" text-anchor="start" >°</text>
<text x="529.8" y="598.8" font-size="16" text-anchor="start" >C</text>
<text x="542.1" y="598.8" font-size="16" text-anchor="start" >)</text>
<g transform="translate(12.9,193.8) rotate(-90)"><path d="M0.3 0.2H12.9L6.6 -11.4Z" fill="none" stroke="#1a1a1a" stroke-width="0.85"/><text x="16" y="0" font-size="16" text-anchor="start" >Soil moisture (%)</text></g>
<g transform="translate(12.4,478.1) rotate(-90)"><text x="0" y="0" font-size="16" text-anchor="start" >Response ratio</text></g>
</g>
</svg></body></html>
